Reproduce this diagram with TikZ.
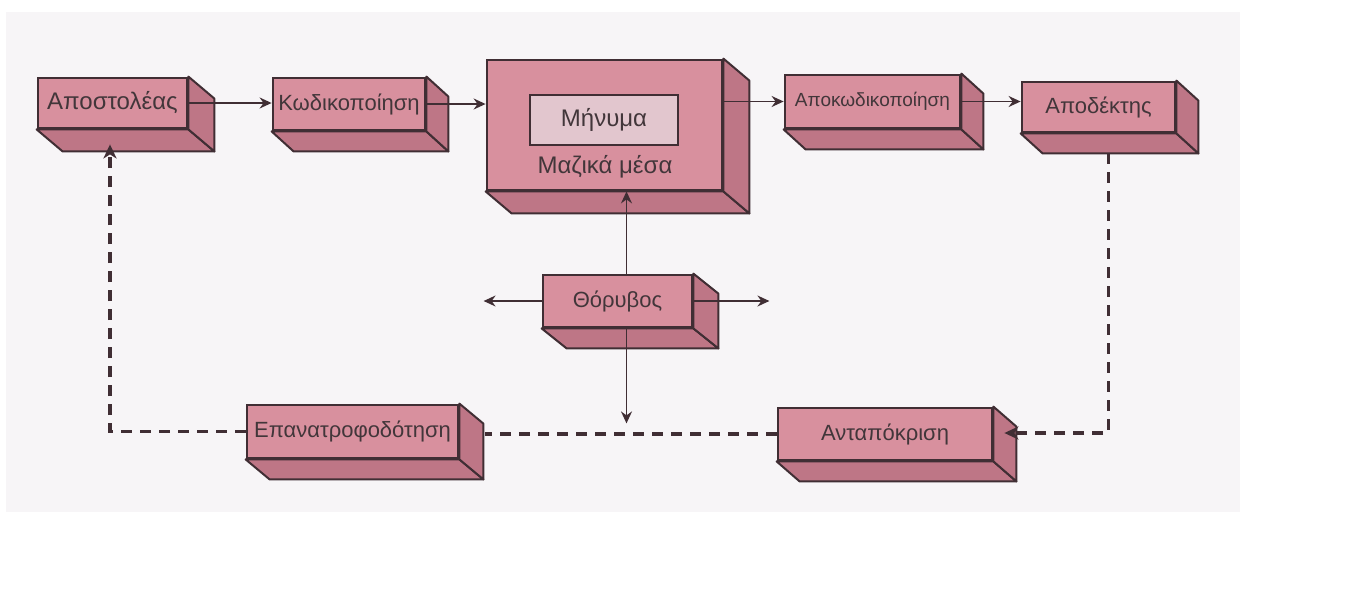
\documentclass[tikz,border=0pt]{standalone}
\usepackage{fontspec}
\setmainfont{Liberation Sans}
\usetikzlibrary{calc,arrows.meta,backgrounds}

\definecolor{face}{RGB}{216,144,158}
\definecolor{sideface}{RGB}{190,118,134}
\definecolor{msgface}{RGB}{226,198,206}
\definecolor{edge}{RGB}{64,46,52}
\definecolor{ink}{RGB}{66,54,58}
\definecolor{paper}{RGB}{247,245,247}

\tikzset{
  front/.style={draw=edge, line width=2.8pt, fill=face, text=ink,
    font=\fontsize{22}{26}\selectfont, inner sep=0pt},
  inner/.style={draw=edge, line width=1.8pt, fill=msgface, text=ink,
    font=\fontsize{24}{28}\selectfont, inner sep=0pt},
  depth/.style={fill=sideface, draw=edge, line width=2pt, line join=round},
  conn/.style={draw=edge, line width=1.6pt,
    -{Stealth[length=12pt,width=11pt,inset=4pt]}},
  fbline/.style={draw=edge, line width=3.2pt, dash pattern=on 11pt off 8pt},
  fbk/.style={fbline, -{Stealth[length=14pt,width=13pt,inset=4pt]}}
}

% bottom and right faces of a slab, drawn behind its front face
\newcommand\extrude[3]{%
  \begin{scope}[on background layer]
    \path[depth] (#1.south west) -- (#1.south east) -- ++(#2,#3)
      -- ($(#1.south west)+(#2,#3)$) -- cycle;
    \path[depth] (#1.north east) -- ++(#2,#3)
      -- ($(#1.south east)+(#2,#3)$) -- (#1.south east) -- cycle;
  \end{scope}}

\begin{document}
\begin{tikzpicture}[x=1pt,y=-1pt]
\useasboundingbox (0,0) rectangle (1345,598);
\begin{scope}[on background layer]
  \fill[white] (0,0) rectangle (1345,598);
  \fill[paper] (6,12) rectangle (1240,512);
\end{scope}

% slabs
\node[front, minimum width=149pt, minimum height=50pt, font=\fontsize{24}{28}\selectfont] (snd) at (112.5,103) {Αποστολέας};
\node[front, minimum width=152pt, minimum height=52pt] (enc) at (349,104) {Κωδικοποίηση};
\node[front, minimum width=235pt, minimum height=130pt] (media) at (604.5,125) {};
\node[inner, minimum width=148pt, minimum height=50pt] (msg) at (604,120) {Μήνυμα};
\node[text=ink, font=\fontsize{24}{28}\selectfont, inner sep=0pt] (medialbl) at (605,167) {Μαζικά μέσα};
\node[front, minimum width=175pt, minimum height=53pt, font=\fontsize{19}{23}\selectfont] (dec) at (872.5,101.5) {Αποκωδικοποίηση};
\node[front, minimum width=153pt, minimum height=50pt] (rcv) at (1098.5,107) {Αποδέκτης};
\node[front, minimum width=149pt, minimum height=52pt] (noise) at (617.5,301) {Θόρυβος};
\node[front, minimum width=211pt, minimum height=53pt] (fb) at (352.5,431.5) {Επανατροφοδότηση};
\node[front, minimum width=214pt, minimum height=52pt] (resp) at (885,434) {Ανταπόκριση};

\extrude{snd}{26}{22}
\extrude{enc}{22}{20}
\extrude{media}{26}{22}
\extrude{dec}{22}{20}
\extrude{rcv}{22}{20}
\extrude{noise}{25}{20}
\extrude{fb}{24}{20}
\extrude{resp}{23}{20}

% forward chain
\draw[conn] (snd.east) -- (snd.east -| enc.west);
\draw[conn] (enc.east) -- (enc.east -| media.west);
\draw[conn] (dec.west -| media.east) -- (dec.west);
\draw[conn] (dec.east) -- (dec.east -| rcv.west);

% noise
\coordinate (nup) at ($(noise.north)+(9,0)$);
\draw[conn] (nup) -- (nup |- media.south);
\coordinate (ndn) at ($(noise.south)+(9,0)$);
\coordinate (ndnend) at ($(ndn)+(0,95)$);
\draw[conn] (ndn) -- (ndnend);
\coordinate (nleft) at ($(noise.west)+(-58,0)$);
\draw[conn] (noise.west) -- (nleft);
\coordinate (nright) at ($(noise.east)+(76,0)$);
\draw[conn] (noise.east) -- (nright);

% feedback loop
\coordinate (fbstart) at ($(rcv.south)+(10,20)$);
\coordinate (resptip) at ($(resp.east)+(11,-1)$);
\draw[fbk] (fbstart) |- (resptip);
\coordinate (fbjoin) at ($(fb.east)+(26,0)$);
\draw[fbline] (resp.west) -- (resp.west -| fbjoin);
\coordinate (sndtip) at ($(snd.south)+(-2.5,15)$);
\draw[fbk] (fb.west) -| (sndtip);
\end{tikzpicture}
\end{document}
